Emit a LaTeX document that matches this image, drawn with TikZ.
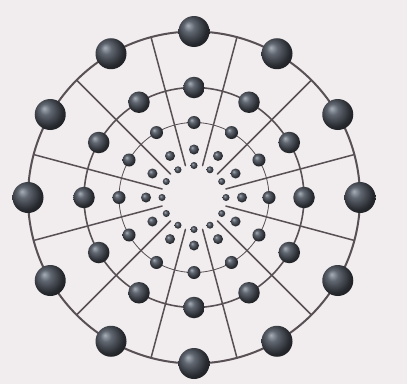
\documentclass[tikz,border=0pt]{standalone}
\usepackage{tikz}

\definecolor{paper}{RGB}{241,236,237}
\definecolor{wire}{RGB}{88,80,84}
\definecolor{beadcol}{RGB}{84,90,100}
\definecolor{beadhi}{RGB}{168,174,182}

% darker glass-bead shading than the stock ball shading
\pgfdeclareradialshading{bead}{\pgfqpoint{-10bp}{10bp}}{%
  color(0bp)=(beadhi); color(9bp)=(beadcol!85!beadhi);
  color(18bp)=(beadcol!75!black); color(25bp)=(beadcol!45!black);
  color(50bp)=(black)}

\tikzset{
  bead/.style={circle, inner sep=0pt, shading=bead},
  wire/.style={draw=wire, line cap=round},
}

\begin{document}
\begin{tikzpicture}[x=1pt,y=1pt]
		% background sheet
		\fill[paper] (0,0) rectangle (407,384);
		
		\begin{scope}[shift={(194,186.5)}]
		% the rings that carry the beads
		\draw[wire, line width=2pt] (0,0) circle (166);   % outer ring
		\draw[wire, line width=1.6pt] (0,0) circle (110); % second ring
		\draw[wire, line width=0.8pt] (0,0) circle (75);  % third ring
		
		% twelve spokes, between the beads
		\foreach \a in {15,45,...,345}
			\draw[wire, line width=1.5pt] (\a:33) -- (\a:166);
		
		% beads, ring by ring from the outside in
		\foreach \a [count=\i] in {0,30,...,330} {
			\node[bead, minimum size=31] (ra\i) at (\a:166) {};
			\node[bead, minimum size=21.5] (rb\i) at (\a:110) {};
			\node[bead, minimum size=13] (rc\i) at (\a:75) {};
			\node[bead, minimum size=10] (rd\i) at (\a:48) {};
			\node[bead, minimum size=7] (re\i) at (\a:32) {};
		}
		\end{scope}
	\end{tikzpicture}
\end{document}
